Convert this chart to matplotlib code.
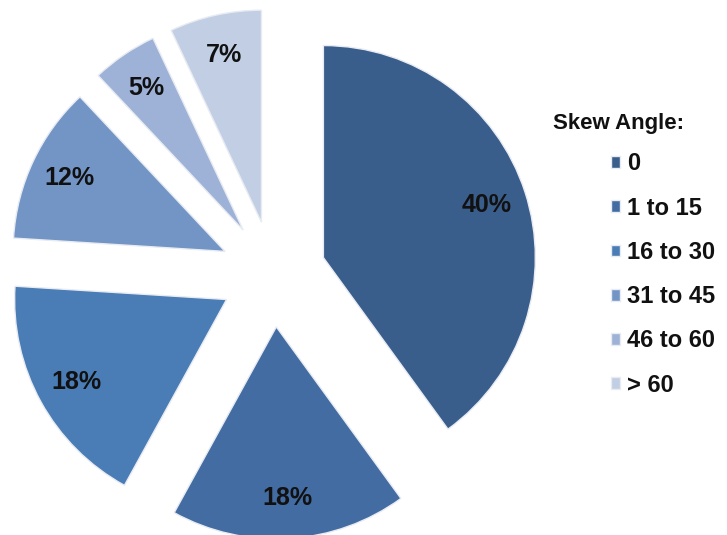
import matplotlib
matplotlib.use("Agg")
import matplotlib.pyplot as plt

# skew angle distribution
categories = ["0", "1 to 15", "16 to 30", "31 to 45", "46 to 60", "> 60"]
shares = [40, 18, 18, 12, 5, 7]
colors = ["#3a5e8c", "#426ca2", "#4a7db6", "#7395c6", "#9db2d6", "#c1cee4"]

plt.rcParams['font.family'] = ['Liberation Sans', 'DejaVu Sans']

fig = plt.figure(figsize=(7.27, 5.35), dpi=100)
ax = fig.add_axes([0, 0, 1, 1])

wedges, texts, autotexts = ax.pie(
    shares, colors=colors, startangle=90, counterclock=False,
    explode=[0.25] * len(shares), radius=1.0,
    autopct="%d%%", pctdistance=0.81,
    wedgeprops=dict(edgecolor="#e8ecf2", linewidth=1.0),
    textprops=dict(fontsize=18, fontweight="bold", color="#111111"))

ax.set_aspect("auto")
ax.set_xlim(-1.288, 2.142)
ax.set_ylim(-1.231, 1.292)
ax.axis("off")

leg = fig.legend(wedges, categories, loc="upper left",
                 bbox_to_anchor=(0.840, 0.715), frameon=False,
                 handlelength=0.4, handleheight=0.4, handletextpad=0.3,
                 labelspacing=0.9, borderpad=0, borderaxespad=0,
                 prop=dict(size=17, weight="bold"))
for t in leg.get_texts():
    t.set_color("#111111")

fig.text(553 / 727, 1 - 124 / 535, "Skew Angle:", fontsize=16,
         fontweight="bold", color="#111111", va="center", ha="left")

fig.savefig("out.png", dpi=100)
